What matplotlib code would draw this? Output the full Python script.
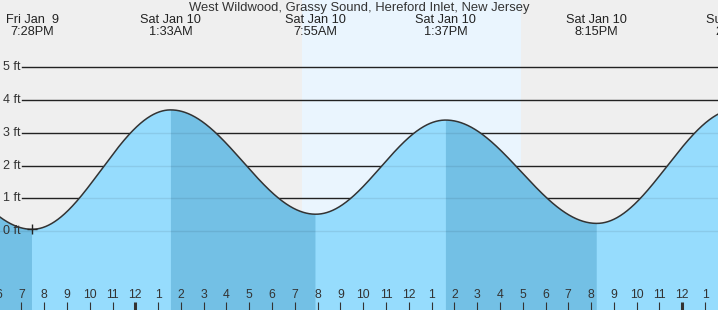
import numpy as np
import matplotlib
matplotlib.use("Agg")
import matplotlib.pyplot as plt
from matplotlib.transforms import blended_transform_factory

plt.rcParams['font.family'] = ['Liberation Sans', 'DejaVu Sans']

# ---- data (hours since Fri Jan 9 00:00) ----
title = "West Wildwood, Grassy Sound, Hereford Inlet, New Jersey"
event_hours = [13.08, 19.467, 25.55, 31.917, 37.617, 44.25, 50.42]
event_heights = [3.30, 0.06, 3.70, 0.52, 3.39, 0.24, 3.73]
event_days = ["Fri Jan  9", "Fri Jan  9", "Sat Jan 10", "Sat Jan 10", "Sat Jan 10", "Sat Jan 10", "Sun Jan 11"]
event_times = ["1:05PM", "7:28PM", "1:33AM", "7:55AM", "1:37PM", "8:15PM", "2:25AM"]
sunrise, sunset = 31.31, 40.92
ft_levels = [0, 1, 2, 3, 4, 5]
ft_labels = ["0 ft", "1 ft", "2 ft", "3 ft", "4 ft", "5 ft"]
hour_ticks = list(range(18, 50))
hour_labels = [str((h % 12) or 12) for h in hour_ticks]

x_min, x_max = 18.06, 49.57
y_min, y_max = -2.40, 7.05

# ---- colours ----
night_bg = '#efefef'
day_bg = '#eaf5fe'
water_light = '#96dcfd'
water_dark = '#73c0e5'
ink = '#222222'

fig = plt.figure(figsize=(7.18, 3.10), dpi=100)
fig.patch.set_facecolor(night_bg)
ax = fig.add_axes([0, 0, 1, 1])
ax.set_facecolor(night_bg)
for s in ax.spines.values():
    s.set_visible(False)
ax.set_xticks([]); ax.set_yticks([])
ax.set_xlim(x_min, x_max)
ax.set_ylim(y_min, y_max)

ax.axvspan(sunrise, sunset, color=day_bg, zorder=0, lw=0)

# smooth tide curve between successive extremes
t = np.linspace(x_min - 0.5, x_max + 0.5, 2000)
eh = np.array(event_hours); ev = np.array(event_heights)
idx = np.clip(np.searchsorted(eh, t) - 1, 0, len(eh) - 2)
frac = (t - eh[idx]) / (eh[idx + 1] - eh[idx])
h = ev[idx] + (ev[idx + 1] - ev[idx]) * (1 - np.cos(np.pi * frac)) / 2

# grid lines (dark, behind water) and their labels
xtr = blended_transform_factory(ax.transAxes, ax.transData)
for lv, lab in zip(ft_levels, ft_labels):
    ax.plot([22 / 718, 1], [lv, lv], color=ink, lw=1.0, transform=xtr, zorder=1)
    ax.text(3 / 718, lv, lab, transform=xtr, ha='left', va='center',
            fontsize=9, color='#333333', zorder=4)

water = ax.fill_between(t, y_min - 1, h, color=water_light, lw=0, zorder=2)
falling = ev[idx + 1] < ev[idx]
ax.fill_between(t, y_min - 1, h, where=falling, color=water_dark, lw=0, zorder=2.1)

# faint grid lines over water
wpath = water.get_paths()[0]
for lv in ft_levels:
    ln, = ax.plot([x_min - 1, x_max + 1], [lv, lv], color='#000000', alpha=0.08, lw=1.0, zorder=2.5)
    ln.set_clip_path(wpath, ax.transData)

ax.plot(t, h, color='#333333', lw=1.1, zorder=3)
ax.plot([event_hours[1]], [event_heights[1]], marker='+', color=ink, ms=7, mew=1, zorder=4)

# hour ticks and labels
btr = blended_transform_factory(ax.transData, ax.transAxes)
for hr, lab in zip(hour_ticks, hour_labels):
    mid = (hr % 24 == 0)
    ax.plot([hr, hr], [0, 8 / 310], color='#333333', lw=2.2 if mid else 0.8,
            transform=btr, zorder=5, solid_capstyle='butt')
    ax.text(hr, 1 - 295 / 310, lab, transform=btr, ha='center', va='center',
            fontsize=8.8, color='#333333', zorder=5)

# header
ax.text(0.5, 1 - 7.5 / 310, title, transform=ax.transAxes, ha='center', va='center',
        fontsize=9.4, color='#333333', zorder=6)
for hr, d, tm in zip(event_hours, event_days, event_times):
    if hr < x_min - 1:
        continue
    ax.text(hr, 1 - 20 / 310, d, transform=btr, ha='center', va='center',
            fontsize=9.2, color=ink, zorder=6)
    ax.text(hr, 1 - 32 / 310, tm, transform=btr, ha='center', va='center',
            fontsize=9.2, color=ink, zorder=6)

fig.savefig('out.png', dpi=100, facecolor=night_bg)
